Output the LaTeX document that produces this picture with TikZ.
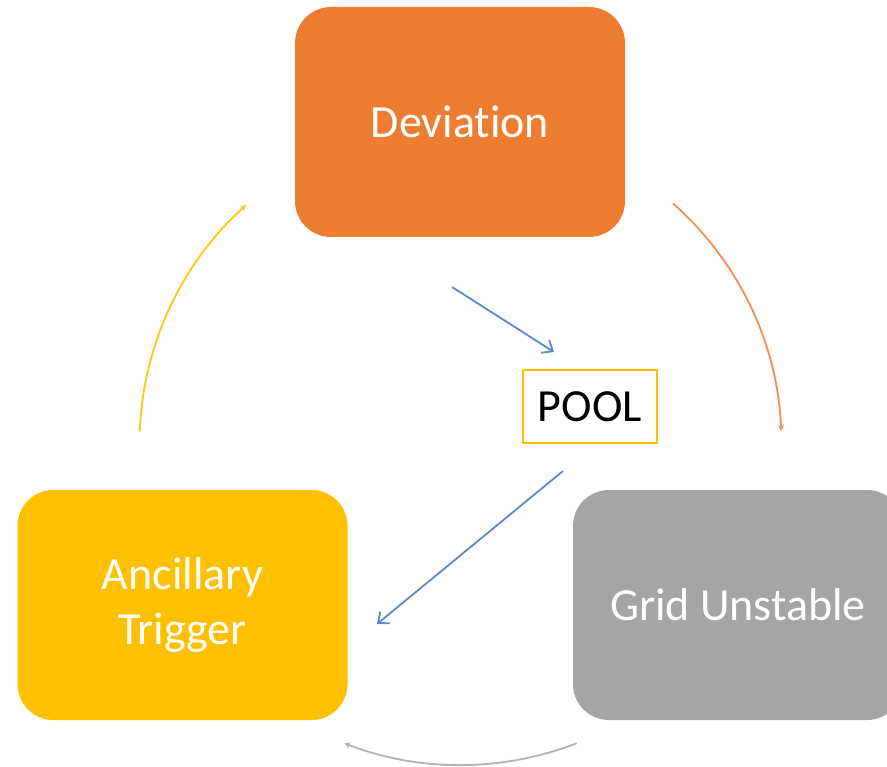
\documentclass[tikz,border=0pt]{standalone}
\usepackage{fontspec}
\setmainfont{Carlito}[Ligatures=CommonOff]
\usetikzlibrary{arrows.meta,calc}
\definecolor{cOrange}{HTML}{ED7D31}
\definecolor{cGray}{HTML}{A5A5A5}
\definecolor{cGold}{HTML}{FFC000}
\definecolor{cBlue}{HTML}{4472C4}
\tikzset{
  box/.style={rounded corners=36pt, minimum width=330pt, minimum height=230pt, inner sep=0pt,
    text=white, align=center, font=\fontsize{46}{55}\selectfont},
  blueline/.style={draw=cBlue!85, line width=1.8pt, -{Straight Barb[length=9pt,width=15pt,line width=1.8pt]}},
  arcline/.style={line width=1.8pt, -{Stealth[length=6pt,width=6pt]}}
}
\begin{document}
\begin{tikzpicture}[x=1pt,y=-1pt]
\useasboundingbox (0,0) rectangle (887,767);
\clip (0,0) rectangle (887,767);
\fill[white] (0,0) rectangle (887,767);
\coordinate (c) at (460.5,444);
\node[box, fill=cOrange] (dev) at (460,122) {Deviation};
\node[box, fill=cGold] (anc) at (182.5,605) {Ancillary\\Trigger};
\node[box, fill=cGray] (grid) at (738,605) {Grid Unstable};
\node[draw=cGold, line width=2.2pt, minimum width=134pt, minimum height=73pt, inner sep=0pt,
  font=\fontsize{46}{55}\selectfont] (pool) at (590,406.5) {POOL};
% blue arrows
\coordinate (b1s) at (452,287);
\coordinate (b1e) at (554,352);
\coordinate (b2s) at (563,471);
\coordinate (b2e) at (377,624);
\draw[blueline] (b1s) -- (b1e);
\draw[blueline] (b2s) -- (b2e);
% cycle arcs
\coordinate (o1) at ($(c)+(-48.5:321)$);
\coordinate (g1) at ($(c)+(68.8:321)$);
\coordinate (y1) at ($(c)+(-177.8:321)$);
\draw[arcline, draw=cOrange!85] (o1) arc[start angle=-48.5, end angle=-2.3, radius=321];
\draw[arcline, draw=cGray!85] (g1) arc[start angle=68.8, end angle=111.2, radius=321];
\draw[arcline, draw=cGold!90] (y1) arc[start angle=-177.8, end angle=-131.9, radius=321];
\end{tikzpicture}
\end{document}
